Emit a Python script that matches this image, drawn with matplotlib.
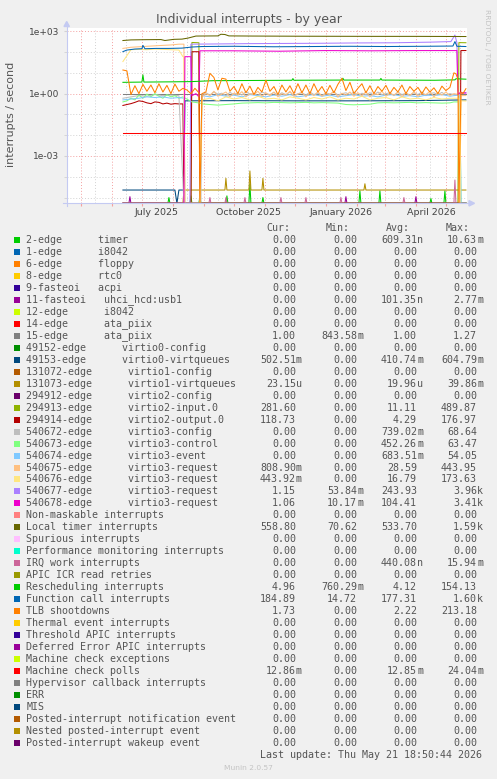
import matplotlib
matplotlib.use('Agg')
import matplotlib.pyplot as plt
import matplotlib.transforms as mtransforms
from matplotlib.ticker import NullFormatter
from matplotlib.patches import Rectangle, Polygon
from matplotlib.lines import Line2D
import numpy as np
import pandas as pd

W, H = 497, 779

# ---- legend table -------------------------------------------------------
NAMES = [
    '2-edge      timer', '1-edge      i8042', '6-edge      floppy', '8-edge      rtc0',
    '9-fasteoi   acpi', '11-fasteoi   uhci_hcd:usb1', '12-edge      i8042',
    '14-edge      ata_piix', '15-edge      ata_piix', '49152-edge      virtio0-config',
    '49153-edge      virtio0-virtqueues', '131072-edge      virtio1-config',
    '131073-edge      virtio1-virtqueues', '294912-edge      virtio2-config',
    '294913-edge      virtio2-input.0', '294914-edge      virtio2-output.0',
    '540672-edge      virtio3-config', '540673-edge      virtio3-control',
    '540674-edge      virtio3-event', '540675-edge      virtio3-request',
    '540676-edge      virtio3-request', '540677-edge      virtio3-request',
    '540678-edge      virtio3-request', 'Non-maskable interrupts', 'Local timer interrupts',
    'Spurious interrupts', 'Performance monitoring interrupts', 'IRQ work interrupts',
    'APIC ICR read retries', 'Rescheduling interrupts', 'Function call interrupts',
    'TLB shootdowns', 'Thermal event interrupts', 'Threshold APIC interrupts',
    'Deferred Error APIC interrupts', 'Machine check exceptions', 'Machine check polls',
    'Hypervisor callback interrupts', 'ERR', 'MIS', 'Posted-interrupt notification event',
    'Nested posted-interrupt event', 'Posted-interrupt wakeup event',
]
COLORS = [
    '#00CC00', '#0066B3', '#FF8000', '#FFCC00', '#330099', '#990099', '#CCFF00', '#FF0000',
    '#808080', '#008F00', '#00487D', '#B35A00', '#B38F00', '#6B006B', '#8FB300', '#B30000',
    '#BEBEBE', '#80FF80', '#80C9FF', '#FFC080', '#FFE680', '#AA80FF', '#EE00CC', '#FF8080',
    '#666600', '#FFBFFF', '#00FFCC', '#CC6699', '#999900', '#00CC00', '#0066B3', '#FF8000',
    '#FFCC00', '#330099', '#990099', '#CCFF00', '#FF0000', '#808080', '#008F00', '#00487D',
    '#B35A00', '#B38F00', '#6B006B',
]
Z = '0.00'
CUR = [Z, Z, Z, Z, Z, Z, Z, Z, '1.00', Z, '502.51m', Z, '23.15u', Z, '281.60', '118.73',
       Z, Z, Z, '808.90m', '443.92m', '1.15', '1.06', Z, '558.80', Z, Z, Z, Z, '4.96',
       '184.89', '1.73', Z, Z, Z, Z, '12.86m', Z, Z, Z, Z, Z, Z]
MIN = [Z, Z, Z, Z, Z, Z, Z, Z, '843.58m', Z, Z, Z, Z, Z, Z, Z, Z, Z, Z, Z, Z, '53.84m',
       '10.17m', Z, '70.62', Z, Z, Z, Z, '760.29m', '14.72', Z, Z, Z, Z, Z, Z, Z, Z, Z,
       Z, Z, Z]
AVG = ['609.31n', Z, Z, Z, Z, '101.35n', Z, Z, '1.00', Z, '410.74m', Z, '19.96u', Z,
       '11.11', '4.29', '739.02m', '452.26m', '683.51m', '28.59', '16.79', '243.93',
       '104.41', Z, '533.70', Z, Z, '440.08n', Z, '4.12', '177.31', '2.22', Z, Z, Z, Z,
       '12.85m', Z, Z, Z, Z, Z, Z]
MAX = ['10.63m', Z, Z, Z, Z, '2.77m', Z, Z, '1.27', Z, '604.79m', Z, '39.86m', Z,
       '489.87', '176.97', '68.64', '63.47', '54.05', '443.95', '173.63', '3.96k', '3.41k',
       Z, '1.59k', Z, Z, '15.94m', Z, '154.13', '1.60k', '213.18', Z, Z, Z, Z, '24.04m',
       Z, Z, Z, Z, Z, Z]

# ---- time grids ---------------------------------------------------------
T0 = pd.Timestamp('2025-04-16 18:50')
T1 = pd.Timestamp('2026-05-21 18:50')
START, END = '2025-06-12', '2026-05-21'
PRE = pd.date_range('2025-06-12', periods=16, freq='4D')
PRE8 = pd.date_range('2025-06-12', periods=8, freq='8D')
POST = pd.date_range('2025-08-30', periods=63, freq='4D')
POST8 = pd.date_range('2025-08-30', periods=32, freq='8D')
X_LABELS = ['July 2025', 'October 2025', 'January 2026', 'April 2026']
X_LABEL_AT = ['2025-07-16', '2025-10-16', '2026-01-16', '2026-04-16']
Y_TICKS = [1e3, 1e0, 1e-3]
Y_LABELS = ['1e+03', '1e+00', '1e-03']

# ---- series values ------------------------------------------------------
tlb_pre = [13.7, 12.5, 0.9, 2.4, 1.0, 2.8, 1.3, 2.6, 1.1, 3.0, 1.2, 2.5, 1.0, 2.9, 1.3, 1.8]
tlb_mid_d = ['2025-08-15', '2025-08-19', '2025-08-23', '2025-08-27', '2025-08-28']
tlb_mid = [1.5, 1.0, 1.8, 1.1, 0.0]
tlb_post = [1.0, 1.2, 9.5, 6.0, 1.5, 5.5, 5.0, 1.3, 2.2, 1.0,
            3.0, 1.1, 2.3, 0.9, 2.0, 1.2, 4.5, 1.3, 2.2, 0.9,
            2.6, 1.2, 2.4, 1.0, 3.0, 1.1, 2.6, 1.0, 3.0, 1.2,
            2.2, 1.0, 2.5, 1.1, 2.8, 5.5, 1.4, 3.5, 1.0, 1.8,
            3.0, 1.1, 2.4, 1.0, 2.2, 1.3, 2.5, 1.0, 2.0, 1.2,
            2.6, 1.0, 2.2, 1.3, 2.0, 1.0, 2.1, 1.2, 1.9, 1.0,
            2.3, 1.4, 2.0]
tlb_end_d = ['2026-05-09', '2026-05-11', '2026-05-13', '2026-05-14', '2026-05-16',
             '2026-05-18', '2026-05-21']
tlb_end = [10.0, 9.0, 5.0, 0.0, 1.2, 1.0, 1.73]

cal_d = ['2025-06-12', '2025-06-16', '2025-06-24', '2025-07-01', '2025-07-02', '2025-07-04',
         '2025-07-15', '2025-07-28', '2025-08-10', '2025-08-20', '2025-08-30', '2025-10-01',
         '2025-11-10', '2025-12-20', '2026-01-25', '2026-03-01', '2026-04-10', '2026-05-08',
         '2026-05-10', '2026-05-12', '2026-05-21']
cal = [105, 125, 140, 145, 210, 145, 150, 150, 155, 175, 185, 190, 180, 185, 190, 185, 190,
       195, 320, 190, 185]

loc_d = ['2025-06-12', '2025-06-20', '2025-07-05', '2025-07-20', '2025-07-24', '2025-08-02',
         '2025-08-10', '2025-08-16', '2025-08-24', '2025-09-15', '2025-09-18', '2025-09-22',
         '2025-09-26', '2025-10-20', '2025-12-01', '2026-01-10', '2026-02-20', '2026-04-01',
         '2026-05-21']
loc = [360, 385, 395, 400, 360, 410, 420, 470, 590, 600, 720, 700, 600, 590, 580, 575, 570,
       570, 560]

res_d = ['2025-06-12', '2025-07-01', '2025-07-02', '2025-07-03', '2025-08-01', '2025-08-20',
         '2025-09-10', '2025-10-20', '2025-11-28', '2025-11-29', '2025-11-30', '2026-01-17',
         '2026-01-18', '2026-01-19', '2026-02-24', '2026-02-25', '2026-02-26', '2026-04-20',
         '2026-05-10', '2026-05-11', '2026-05-21']
res = [3.5, 3.6, 8.0, 3.6, 3.7, 3.8, 4.2, 4.3, 4.4, 5.3, 4.4, 4.5, 5.5, 4.5, 4.5, 5.4, 4.5,
       4.4, 4.6, 5.2, 4.96]

v677_d = ['2025-06-12', '2025-08-18', '2025-08-19', '2025-09-10', '2025-10-15', '2025-11-20',
          '2025-12-25', '2026-02-01', '2026-03-10', '2026-04-15', '2026-05-06', '2026-05-10',
          '2026-05-12', '2026-05-13', '2026-05-14', '2026-05-21']
v677 = [0, 0, 240, 245, 255, 260, 265, 275, 280, 300, 320, 660, 280, 1.5, 1.0, 1.15]

v678_d = ['2025-06-12', '2025-08-12', '2025-08-13', '2025-08-19', '2025-08-20', '2025-08-24',
          '2025-08-27', '2025-08-28', '2025-09-30', '2025-11-15', '2026-01-01', '2026-02-15',
          '2026-04-01', '2026-05-12', '2026-05-13', '2026-05-15', '2026-05-21']
v678 = [0, 0, 60, 60, 0.8, 1.0, 0.7, 115, 115, 110, 118, 115, 118, 118, 0.9, 1.1, 1.06]

v913_d = ['2025-06-12', '2025-08-19', '2025-08-20', '2025-08-27', '2025-08-28', '2026-05-13',
          '2026-05-14', '2026-05-21']
v913 = [0, 0, 290, 280, 0, 0, 285, 281.6]

v914_pre = [0.27, 0.3, 0.33, 0.38, 0.45, 0.42, 0.36, 0.33, 0.4, 0.38, 0.32, 0.35, 0.31, 0.33,
            0.32, 0.32]
v914_d = ['2025-08-12', '2025-08-19', '2025-08-20', '2025-08-27', '2025-08-28', '2026-05-15',
          '2026-05-16', '2026-05-21']
v914 = [0, 0, 104, 104, 0, 0, 118, 118.73]

v672_pre = [0.6, 0.7, 0.8, 0.75, 0.9, 0.8, 0.85, 0.8]
v672_post = [0.9, 1.1, 0.85, 1.2, 0.95, 1.05, 0.8, 1.15, 0.9, 1.1,
             0.85, 1.25, 0.95, 1.0, 0.8, 1.2, 1.0, 0.9, 1.15, 0.85,
             1.1, 0.9, 1.2, 0.8, 1.0, 1.1, 0.85, 1.2, 0.9, 1.05,
             0.8, 1.1, 0.95, 1.2, 0.85, 1.0, 1.1, 0.9, 1.2, 0.8,
             1.05, 0.9, 1.1, 0.85, 1.2, 0.9, 1.0, 1.1, 0.8, 1.15,
             0.9, 1.05, 0.85, 1.1, 0.9, 1.2, 0.8, 1.0, 1.1, 0.9,
             1.15, 0.85, 1.0]

v673_pre = [0.4, 0.45, 0.6, 0.5, 0.85, 0.6, 0.95, 0.7, 1.0, 0.75, 0.6, 0.9, 0.7, 0.8, 0.6, 0.7]
v673_mid_d = ['2025-08-20', '2025-08-28']
v673_mid = [0.4, 0.35]
v673_post = [0.32, 0.3, 0.28, 0.3, 0.32, 0.35, 0.36, 0.37, 0.36, 0.38, 0.37, 0.36, 0.37, 0.38,
             0.36, 0.37, 0.36, 0.35, 0.3, 0.29, 0.3, 0.31, 0.36, 0.37, 0.36, 0.37, 0.38, 0.36,
             0.37, 0.36, 0.35, 0.36]

v674_pre = [0.5, 0.55, 0.6, 0.7, 0.65, 0.7, 0.6, 0.65]
v674_post = [0.8, 0.7, 0.9, 0.75, 0.85, 0.7, 0.9, 0.8, 0.7, 0.85, 0.75, 0.9, 0.7, 0.8, 0.9, 0.75,
             0.85, 0.7, 0.8, 0.9, 0.75, 0.8, 0.7, 0.85, 0.9, 0.75, 0.8, 0.7, 0.85, 0.8, 0.9, 0.75]

v675_pre = [150, 170, 180, 190, 200, 210, 220, 240]
v675_post = [0.7, 1.0, 0.8, 1.3, 0.75, 0.95, 1.2, 0.7, 1.05, 0.85,
             1.25, 0.7, 1.0, 0.9, 1.3, 0.75, 1.1, 0.8, 1.2, 0.7,
             1.0, 0.85, 1.3, 0.75, 0.95, 1.15, 0.7, 1.1, 0.8, 1.25,
             0.75, 1.0, 0.9, 1.3, 0.7, 1.05, 0.85, 1.2, 0.75, 1.1,
             0.8, 1.25, 0.7, 1.0, 0.9, 1.3, 0.75, 1.05, 0.85, 1.2,
             0.7, 1.1, 0.8, 1.25, 0.75, 1.0, 0.9, 1.3, 0.7, 1.1,
             0.85, 1.2, 0.8]

v676_pre = [35, 130, 135, 130, 140, 135, 130, 125]
v676_post = [0.5, 0.6, 0.45, 0.7, 0.55, 0.65, 0.5, 0.75, 0.55, 0.6, 0.5, 0.7, 0.6, 0.5, 0.65,
             0.55, 0.7, 0.5, 0.6, 0.55, 0.75, 0.5, 0.6, 0.65, 0.5, 0.7, 0.55, 0.6, 0.5, 0.65,
             0.55, 0.6]

navy_d = ['2025-06-12', '2025-08-03', '2025-08-05', '2025-08-07', '2025-08-12', '2025-08-13',
          '2025-10-01', '2025-12-01', '2026-02-01', '2026-04-01', '2026-05-21']
navy = [2.3e-5, 2.3e-5, 0, 2.3e-5, 2.3e-5, 0.45, 0.46, 0.45, 0.45, 0.46, 0.5]

timer_ev = [('2025-07-28', 1.0e-5), ('2025-08-19', 1.2e-5), ('2025-08-28', 1.2e-5),
            ('2025-09-24', 1.2e-5), ('2025-10-17', 4.5e-5), ('2025-10-30', 1.0e-5),
            ('2026-02-04', 2.1e-5), ('2026-02-24', 2.1e-5), ('2026-04-16', 9e-6),
            ('2026-04-30', 2.1e-5)]
usb_ev = [('2025-06-19', 1.1e-5), ('2026-01-21', 1.1e-5), ('2026-04-01', 1.1e-5)]
iwi_ev = [('2025-09-07', 1.0e-5), ('2025-09-23', 1.0e-5), ('2025-10-12', 1.0e-5),
          ('2025-11-17', 1.0e-5), ('2025-12-12', 1.0e-5), ('2026-01-16', 1.0e-5),
          ('2026-03-20', 1.0e-5), ('2026-05-10', 7.0e-5)]
gold_ev = [('2025-09-23', 8.4e-5), ('2025-10-17', 1.9e-4), ('2025-10-30', 8.4e-5),
           ('2026-02-09', 4.6e-5)]


def join(*parts):
    xs, ys = [], []
    for d, v in parts:
        xs += list(pd.to_datetime(list(d)))
        ys += list(v)
    return xs, ys


def spikes(events, base=0.0, start=START, end=END):
    one = pd.Timedelta(days=1)
    xs, ys = [pd.Timestamp(start)], [base]
    for d, v in events:
        t = pd.Timestamp(d)
        xs += [t - one, t, t + one]
        ys += [base, v, base]
    xs.append(pd.Timestamp(end))
    ys.append(base)
    return xs, ys


data = {
    0: spikes(timer_ev),
    5: spikes(usb_ev),
    8: join(([START, END], [1.0, 1.0])),
    10: join((navy_d, navy)),
    12: join(([START, '2025-08-11'], [0, 0]), spikes(gold_ev, 2.3e-5, '2025-08-12')),
    14: join((v913_d, v913)),
    15: join((PRE, v914_pre), (v914_d, v914)),
    16: join((PRE8, v672_pre), (['2025-08-12', '2025-08-29'], [0, 0]), (POST, v672_post),
             (['2026-05-09', '2026-05-15', '2026-05-16', END], [0.9, 0.9, 0, 0])),
    17: join((PRE, v673_pre), (v673_mid_d, v673_mid), (POST8, v673_post),
             (['2026-05-09', '2026-05-15', '2026-05-16', END], [0.4, 0.4, 0, 0])),
    18: join((PRE8, v674_pre), (['2025-08-12', '2025-08-13', '2025-08-28'], [0.6, 0, 0]),
             (POST8, v674_post), (['2026-05-09', '2026-05-15', '2026-05-16', END],
                                  [0.8, 0.85, 0, 0])),
    19: join((PRE8, v675_pre), (['2025-08-12', '2025-08-13', '2025-08-28'], [240, 0, 0]),
             (POST, v675_post), (['2026-05-09', '2026-05-14', '2026-05-15', '2026-05-16', END],
                                 [1.0, 0.9, 0, 0.8, 0.81])),
    20: join((PRE8, v676_pre), (['2025-08-11', '2025-08-12', '2025-08-13', '2025-08-28'],
                                [60, 60, 0, 0]), (POST8, v676_post),
             (['2026-05-09', '2026-05-14', '2026-05-15', '2026-05-16', END],
              [0.6, 0.6, 0, 0.45, 0.444])),
    21: join((v677_d, v677)),
    22: join((v678_d, v678)),
    24: join((loc_d, loc)),
    27: spikes(iwi_ev),
    29: join((res_d, res)),
    30: join((cal_d, cal)),
    31: join((PRE, tlb_pre), (tlb_mid_d, tlb_mid), (POST, tlb_post), (tlb_end_d, tlb_end)),
    36: join(([START, END], [0.0128, 0.0128])),
}

# ---- figure ------------------------------------------------------------
YMIN, YMAX = 10 ** -5.277, 10 ** 3.144
BG = '#F0F0F0'
TXT = '#555555'
MAJ = '#F4A0A0'
MINC = '#D2D2D2'
AXC = '#C4CAF2'


def fx(x):
    return x / W


def fy(y):
    return 1 - y / H


fig = plt.figure(figsize=(W / 100, H / 100), dpi=100, facecolor=BG)
ax = fig.add_axes([fx(66.7), fy(203.3), 400 / W, 175 / H])
ax.set_facecolor('white')
ax.set_yscale('log')
ax.set_ylim(YMIN, YMAX)
ax.set_xlim(T0, T1)
for s in ax.spines.values():
    s.set_visible(False)

dots = (0, (1, 2))
for m in pd.date_range('2025-05-01', '2026-05-01', freq='MS'):
    ax.axvline(m, color=MAJ, lw=0.7, ls=dots, zorder=1)
for m in pd.date_range('2025-05-01', '2026-05-01', freq='MS') + pd.Timedelta(days=14):
    ax.axvline(m, color=MINC, lw=0.7, ls=dots, zorder=1)
for k in range(-5, 4):
    ax.axhline(10.0 ** k, color=MAJ if k % 3 == 0 else MINC, lw=0.7, ls=dots, zorder=1)

for i, col in enumerate(COLORS):
    xs, ys = data.get(i, join(([START, END], [0.0, 0.0])))
    y = np.maximum(np.asarray(ys, dtype=float), YMIN)
    ax.plot(pd.to_datetime(xs), y, color=col, lw=0.75, zorder=3)

ax.set_yticks(Y_TICKS)
ax.set_yticklabels(Y_LABELS)
ax.set_yticks([10.0 ** k for k in range(-5, 4) if k % 3], minor=True)
ax.yaxis.set_minor_formatter(NullFormatter())
ax.tick_params(axis='y', which='both', length=2.5, color=MINC, labelsize=6.5,
               labelcolor='#444444', pad=3)
ax.set_xticks(pd.date_range('2025-05-01', '2026-05-01', freq='MS'))
ax.set_xticklabels([])
ax.tick_params(axis='x', length=2.5, color=MAJ)

tr = mtransforms.blended_transform_factory(ax.transData, ax.transAxes)
for lab, at in zip(X_LABELS, X_LABEL_AT):
    ax.text(pd.Timestamp(at), -9.3 / 175, lab, transform=tr, ha='center', va='center',
            fontsize=6.8, color='#444444')

# axis lines with arrows
fig.add_artist(Line2D([fx(66.7), fx(66.7)], [fy(206), fy(25)], color=AXC, lw=0.8))
fig.add_artist(Line2D([fx(63), fx(470)], [fy(203.3), fy(203.3)], color=AXC, lw=0.8))
fig.add_artist(Polygon([[fx(64), fy(26.5)], [fx(69.4), fy(26.5)], [fx(66.7), fy(21.5)]],
                       closed=True, color=AXC, transform=fig.transFigure))
fig.add_artist(Polygon([[fx(469), fy(200.6)], [fx(469), fy(206)], [fx(474.5), fy(203.3)]],
                       closed=True, color=AXC, transform=fig.transFigure))

fig.text(fx(248.5), fy(19), 'Individual interrupts - by year', ha='center', va='center',
         fontsize=9, color=TXT)
fig.text(fx(10.8), fy(114), 'interrupts / second', rotation=90, ha='center', va='center',
         fontsize=8, color=TXT)
fig.text(fx(487), fy(57), 'RRDTOOL / TOBI OETIKER', rotation=-90, ha='center', va='center',
         fontsize=5.4, color='#C4C4C4')

# ---- legend -------------------------------------------------------------
MONO = 'DejaVu Sans Mono'
FS = 7.2
for lab, xr in zip(['Cur:', 'Min:', 'Avg:', 'Max:'], [290, 350, 410, 470]):
    fig.text(fx(xr), fy(228.3), lab, ha='right', va='center', family=MONO, fontsize=FS,
             color=TXT)

COLS_X = [296, 357, 417, 477]
for i, name in enumerate(NAMES):
    yc = 239.9 + 11.98 * i
    fig.add_artist(Rectangle((fx(14), fy(yc + 3)), 6 / W, 6 / H, transform=fig.transFigure,
                             facecolor=COLORS[i], edgecolor='none'))
    fig.text(fx(26.3), fy(yc), name, ha='left', va='center', family=MONO, fontsize=FS,
             color=TXT)
    for xr, val in zip(COLS_X, (CUR[i], MIN[i], AVG[i], MAX[i])):
        num, suf = (val[:-1], val[-1]) if val[-1].isalpha() else (val, '')
        fig.text(fx(xr), fy(yc), num, ha='right', va='center', family=MONO, fontsize=FS,
                 color=TXT)
        if suf:
            fig.text(fx(xr), fy(yc), suf, ha='left', va='center', family=MONO, fontsize=FS,
                     color=TXT)

fig.text(fx(482), fy(755), 'Last update: Thu May 21 18:50:44 2026', ha='right', va='center',
         family=MONO, fontsize=FS, color=TXT)
fig.text(fx(248), fy(768), 'Munin 2.0.57', ha='center', va='center', fontsize=5.4,
         color='#C4C4C4')

fig.savefig('out.png', dpi=100, facecolor=BG)
